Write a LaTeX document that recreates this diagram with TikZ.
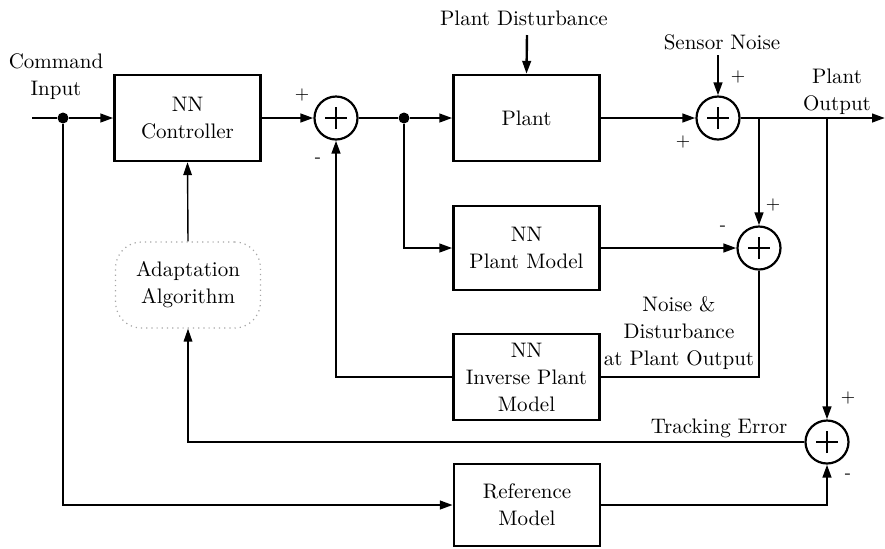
\documentclass[tikz,border=0pt]{standalone}
\usetikzlibrary{arrows.meta,calc}
\begin{document}
\begin{tikzpicture}[x=0.5pt,y=-0.5pt,
 every node/.style={font=\fontsize{10.5}{13.5}\selectfont,inner sep=0pt},
 blk/.style={draw,line width=1.2pt,minimum width=73pt,minimum height=43pt,align=center},
 adbox/.style={draw=gray!70,dotted,line width=0.6pt,rounded corners=13pt,minimum width=72.5pt,minimum height=43pt,align=center},
 sumc/.style={draw,circle,line width=1.1pt,minimum size=21.5pt,
   path picture={\draw[line width=1.4pt]
     ([xshift=-5.5pt]path picture bounding box.center) -- ([xshift=5.5pt]path picture bounding box.center)
     ([yshift=-5.5pt]path picture bounding box.center) -- ([yshift=5.5pt]path picture bounding box.center);}},
 dot/.style={circle,fill,minimum size=5.5pt},
 lbl/.style={align=center},
 sgn/.style={font=\fontsize{9}{9}\selectfont},
 wire/.style={line width=1.2pt},
 thin/.style={line width=0.7pt},
 arr/.style={-{Triangle[length=6.5pt,width=4.3pt]}}
]
\useasboundingbox (0,0) rectangle (885,548);

% blocks
\node[blk] (ctrl) at (187.5,118) {NN\\Controller};
\node[blk] (plant) at (526.5,118) {Plant};
\node[blk,minimum height=42pt] (pm) at (526.5,248) {NN\\Plant Model};
\node[blk] (ipm) at (526.5,377) {NN\\Inverse Plant\\Model};
\node[blk,minimum height=41pt] (ref) at (527,505) {Reference\\Model};
\node[adbox] (adapt) at (188,285) {Adaptation\\Algorithm};

% summing junctions
\node[sumc] (s1) at (336,118) {};
\node[sumc] (s2) at (718,118) {};
\node[sumc] (s3) at (759,248) {};
\node[sumc] (s4) at (827,442) {};

% dots and coordinates
\node[dot] (d1) at (63,118) {};
\node[dot] (d2) at (404,118) {};
\coordinate (in) at (32,118);
\coordinate (out) at (885,118);
\coordinate (j1) at (759,118);
\coordinate (j2) at (827,118);
\coordinate (pdt) at (527,35);
\coordinate (snt) at (718,55);

% labels
\node[lbl] (cmd) at (56,77) {Command\\Input};
\node[lbl] (pd) at (524,18) {Plant Disturbance};
\node[lbl] (sn) at (722,42) {Sensor Noise};
\node[lbl] (po) at (837,92) {Plant\\Output};
\node[lbl] (nd) at (679,333) {Noise \&\\Disturbance\\at Plant Output};
\node[lbl] (te) at (719,428) {Tracking Error};

\node[sgn] (p1) at (302,95) {+};
\node[sgn] (m1) at (318,160) {-};
\node[sgn] (p2a) at (738,77) {+};
\node[sgn] (p2b) at (683,142) {+};
\node[sgn] (p3) at (773,205) {+};
\node[sgn] (m3) at (723,228) {-};
\node[sgn] (p4) at (848,398) {+};
\node[sgn] (m4) at (848,476) {-};

% connectors
\draw[wire] (in) -- (d1);
\draw[wire,arr] (d1) -- (ctrl.west);
\draw[wire,arr] (ctrl.east) -- (s1.west);
\draw[wire] (s1.east) -- (d2);
\draw[wire,arr] (d2) -- (plant.west);
\draw[wire,arr] (d2) |- (pm.west);
\draw[wire,arr] (pdt) -- (plant.north);
\draw[wire,arr] (plant.east) -- (s2.west);
\draw[wire,arr] (snt) -- (s2.north);
\draw[wire,arr] (s2.east) -- (out);
\draw[wire,arr] (j1) -- (s3.north);
\draw[wire,arr] (pm.east) -- (s3.west);
\draw[wire] (s3.south) |- (ipm.east);
\draw[wire,arr] (ipm.west) -| (s1.south);
\draw[wire,arr] (j2) -- (s4.north);
\draw[thin,arr] (s4.west) -| (adapt.south);
\draw[thin,arr] (adapt.north) -- (ctrl.south);
\draw[wire,arr] (d1) |- (ref.west);
\draw[wire,arr] (ref.east) -| (s4.south);
\end{tikzpicture}
\end{document}
